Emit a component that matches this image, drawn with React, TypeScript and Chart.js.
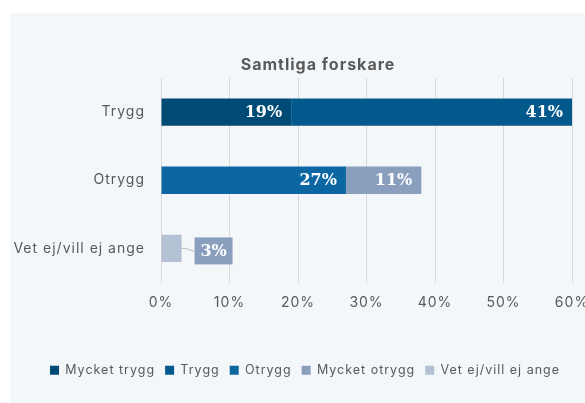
import React, { useEffect, useRef } from 'react';
import { Chart, registerables } from 'chart.js';

Chart.register(...registerables);

const categories = ['Trygg', 'Otrygg', 'Vet ej/vill ej ange'];
const seriesNames = ['Mycket trygg', 'Trygg', 'Otrygg', 'Mycket otrygg', 'Vet ej/vill ej ange'];
const mycketTrygg = [19, null, null];
const trygg = [41, null, null];
const otrygg = [null, 27, null];
const mycketOtrygg = [null, 11, null];
const vetEj = [null, null, 3];
const seriesColors = ['#004b75', '#04598c', '#0b66a1', '#8a9fbe', '#b4c1d5'];
const xTicks = [0, 10, 20, 30, 40, 50, 60];
const chartTitle = 'Samtliga forskare';

const TEXT = '#595959';
const FONT = 'Inter';
const SPACING = '1px';

const spacingPlugin = {
  id: 'letterSpacing',
  beforeInit(chart: any) {
    chart.ctx.letterSpacing = SPACING;
  },
  beforeUpdate(chart: any) {
    chart.ctx.letterSpacing = SPACING;
  },
  beforeLayout(chart: any) {
    chart.ctx.letterSpacing = SPACING;
  },
  afterLayout(chart: any) {
    if (chart.legend) chart.legend.left = 28;
  },
  beforeDraw(chart: any) {
    chart.ctx.letterSpacing = SPACING;
  },
};

const titlePlugin = {
  id: 'customTitle',
  afterDraw(chart: any) {
    const ctx = chart.ctx;
    ctx.save();
    ctx.letterSpacing = SPACING;
    ctx.font = `bold 16px ${FONT}`;
    ctx.fillStyle = TEXT;
    ctx.textAlign = 'center';
    ctx.textBaseline = 'middle';
    ctx.fillText(chartTitle, 308, 52);
    ctx.restore();
  },
};

const labelPlugin = {
  id: 'barLabels',
  afterDatasetsDraw(chart: any) {
    const ctx = chart.ctx;
    ctx.save();
    ctx.letterSpacing = '0px';
    ctx.font = 'bold 16px "DejaVu Serif"';
    ctx.textBaseline = 'middle';
    chart.data.datasets.forEach((ds: any, di: number) => {
      const meta = chart.getDatasetMeta(di);
      meta.data.forEach((el: any, i: number) => {
        const v = ds.data[i];
        if (v == null) return;
        const text = v + '%';
        if (di === 4) {
          const bx = el.x + 13;
          const bw = 38;
          const by = el.y - 11;
          const bh = 27;
          ctx.strokeStyle = '#b5b5b5';
          ctx.lineWidth = 1;
          ctx.beginPath();
          ctx.moveTo(el.x, el.y);
          ctx.lineTo(el.x + 4, el.y);
          ctx.lineTo(bx, el.y + 3);
          ctx.stroke();
          ctx.fillStyle = seriesColors[3];
          ctx.fillRect(bx, by, bw, bh);
          ctx.fillStyle = '#ffffff';
          ctx.textAlign = 'center';
          ctx.fillText(text, bx + bw / 2, by + bh / 2 + 1);
        } else {
          ctx.fillStyle = '#ffffff';
          ctx.textAlign = 'right';
          ctx.fillText(text, el.x - 9, el.y + 1);
        }
      });
    });
    ctx.restore();
  },
};

export default function App() {
  const ref = useRef<HTMLCanvasElement>(null);

  useEffect(() => {
    if (!ref.current) return;
    const seriesData = [mycketTrygg, trygg, otrygg, mycketOtrygg, vetEj];
    const chart = new Chart(ref.current, {
      type: 'bar',
      data: {
        labels: categories,
        datasets: seriesNames.map((name, i) => ({
          label: name,
          data: seriesData[i],
          backgroundColor: seriesColors[i],
          borderWidth: 0,
          barPercentage: 0.4,
          categoryPercentage: 1,
        })),
      },
      options: {
        indexAxis: 'y',
        responsive: false,
        animation: false,
        layout: { padding: { top: 65, right: 13, bottom: 16.5, left: 0 } },
        scales: {
          x: {
            stacked: true,
            min: 0,
            max: 60,
            afterBuildTicks: (s: any) => {
              s.ticks = xTicks.map((v) => ({ value: v }));
            },
            afterFit: (s: any) => {
              s.height = 71.5;
              s.paddingLeft = 0;
              s.paddingRight = 0;
            },
            ticks: {
              padding: 12,
              color: TEXT,
              font: { family: FONT, size: 14 },
              callback: (v: any) => v + '%',
            },
            grid: { color: '#d9d9d9', drawTicks: false },
            border: { display: false },
          },
          y: {
            stacked: true,
            afterFit: (s: any) => {
              s.width = 151;
            },
            ticks: {
              padding: 16,
              color: TEXT,
              font: { family: FONT, size: 14 },
            },
            grid: { display: false, drawTicks: false },
            border: { display: false },
          },
        },
        plugins: {
          tooltip: { enabled: false },
          title: { display: false },
          legend: {
            position: 'bottom',
            labels: {
              boxWidth: 9,
              boxHeight: 9,
              padding: 10,
              color: TEXT,
              font: { family: FONT, size: 12.5 },
            },
          },
        },
      },
      plugins: [spacingPlugin, titlePlugin, labelPlugin],
    } as any);
    return () => chart.destroy();
  }, []);

  return (
    <div
      style={{
        position: 'fixed',
        left: 10,
        top: 13,
        width: 575,
        height: 390,
        background: '#f3f7fa',
      }}
    >
      <canvas ref={ref} width={575} height={390} />
    </div>
  );
}
